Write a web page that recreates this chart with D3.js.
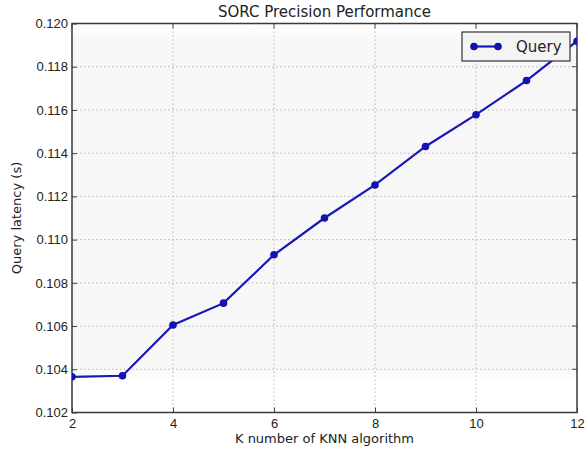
<!DOCTYPE html>
<html><head><meta charset="utf-8">
<script src="https://cdn.jsdelivr.net/npm/d3@7"></script>
<style>body{margin:0;background:#fff;}svg{display:block;font-family:"DejaVu Sans",sans-serif;}</style>
</head><body>
<script>
const kValues = [2,3,4,5,6,7,8,9,10,11,12];
const queryLatency = [0.10365,0.1037,0.10605,0.10706,0.1093,0.1110,0.11253,0.11431,0.11578,0.11736,0.11918];
const xTicks = [2,4,6,8,10,12];
const yTicks = [0.102,0.104,0.106,0.108,0.110,0.112,0.114,0.116,0.118,0.120];
const seriesName = "Query";

const W=588,H=450;
const m={l:72,r:11,t:23.5,b:37.5};
const svg=d3.select("body").append("svg").attr("width",W).attr("height",H);
const x=d3.scaleLinear().domain([2,12]).range([m.l,W-m.r]);
const y=d3.scaleLinear().domain([0.102,0.120]).range([H-m.b,m.t]);
const iw=W-m.l-m.r, ih=H-m.t-m.b;

const defs=svg.append("defs");
const g=defs.append("linearGradient").attr("id","bg").attr("x1",0).attr("y1",0).attr("x2",0).attr("y2",1);
[[0,"#ffffff"],[0.05,"#f7f7f7"],[0.88,"#f7f7f7"],[0.92,"#ffffff"],[1,"#ffffff"]].forEach(s=>g.append("stop").attr("offset",s[0]).attr("stop-color",s[1]));
svg.append("rect").attr("x",m.l).attr("y",m.t).attr("width",iw).attr("height",ih).attr("fill","url(#bg)");

// grid
svg.append("g").selectAll("line").data(xTicks.slice(1,-1)).join("line")
  .attr("x1",d=>x(d)).attr("x2",d=>x(d)).attr("y1",m.t).attr("y2",H-m.b)
  .attr("stroke","#b8b8b8").attr("stroke-width",1).attr("stroke-dasharray","1.5,2.5");
svg.append("g").selectAll("line").data(yTicks.slice(1,-1)).join("line")
  .attr("y1",d=>y(d)).attr("y2",d=>y(d)).attr("x1",m.l).attr("x2",W-m.r)
  .attr("stroke","#b8b8b8").attr("stroke-width",1).attr("stroke-dasharray","1.5,2.5");

// axes
const xa=svg.append("g").attr("transform",`translate(0,${H-m.b})`)
  .call(d3.axisBottom(x).tickValues(xTicks).tickSizeInner(-5).tickSizeOuter(0).tickPadding(8).tickFormat(d3.format("d")));
const ya=svg.append("g").attr("transform",`translate(${m.l},0)`)
  .call(d3.axisLeft(y).tickValues(yTicks).tickSizeInner(-5).tickSizeOuter(0).tickPadding(4).tickFormat(d3.format(".3f")));
[xa,ya].forEach(a=>{a.select(".domain").remove();a.selectAll("text").attr("font-size",13).attr("fill","#222");a.selectAll("line").attr("stroke","#444");});
xa.selectAll("text").attr("dy","0.6em");
// right/top ticks
svg.append("g").selectAll("line").data(yTicks).join("line").attr("x1",W-m.r).attr("x2",W-m.r-5).attr("y1",d=>y(d)).attr("y2",d=>y(d)).attr("stroke","#444");
svg.append("g").selectAll("line").data(xTicks).join("line").attr("y1",m.t).attr("y2",m.t+5).attr("x1",d=>x(d)).attr("x2",d=>x(d)).attr("stroke","#444");

svg.append("rect").attr("x",m.l).attr("y",m.t).attr("width",iw).attr("height",ih).attr("fill","none").attr("stroke","#3a3a3a").attr("stroke-width",1.5);

// line
const data=kValues.map((k,i)=>({k,v:queryLatency[i]}));
const clip=defs.append("clipPath").attr("id","clip").append("rect").attr("x",m.l).attr("y",m.t).attr("width",iw).attr("height",ih);
const pg=svg.append("g").attr("clip-path","url(#clip)");
pg.append("path").datum(data).attr("d",d3.line().x(d=>x(d.k)).y(d=>y(d.v)))
  .attr("fill","none").attr("stroke","#1818b8").attr("stroke-width",2.2);
pg.selectAll("circle").data(data).join("circle").attr("cx",d=>x(d.k)).attr("cy",d=>y(d.v)).attr("r",3.8).attr("fill","#1212b0");

// legend
const lg=svg.append("g");
lg.append("rect").attr("x",462).attr("y",32).attr("width",108).attr("height",29).attr("fill","#f4f4f4").attr("stroke","#333").attr("stroke-width",1.2);
lg.append("line").attr("x1",474).attr("x2",498).attr("y1",46.5).attr("y2",46.5).attr("stroke","#1818b8").attr("stroke-width",2.2);
[474,498].forEach(cx=>lg.append("circle").attr("cx",cx).attr("cy",46.5).attr("r",3.8).attr("fill","#1212b0"));
lg.append("text").attr("x",516).attr("y",52).attr("font-size",15).attr("fill","#222").text(seriesName);

// titles
svg.append("text").attr("x",(m.l+W-m.r)/2).attr("y",17).attr("text-anchor","middle").attr("font-size",15).attr("fill","#222").text("SORC Precision Performance");
svg.append("text").attr("x",(m.l+W-m.r)/2).attr("y",443).attr("text-anchor","middle").attr("font-size",13).attr("fill","#222").text("K number of KNN algorithm");
svg.append("text").attr("transform",`translate(21,${(m.t+H-m.b)/2}) rotate(-90)`).attr("text-anchor","middle").attr("font-size",13).attr("fill","#222").text("Query latency (s)");
</script>
</body></html>
